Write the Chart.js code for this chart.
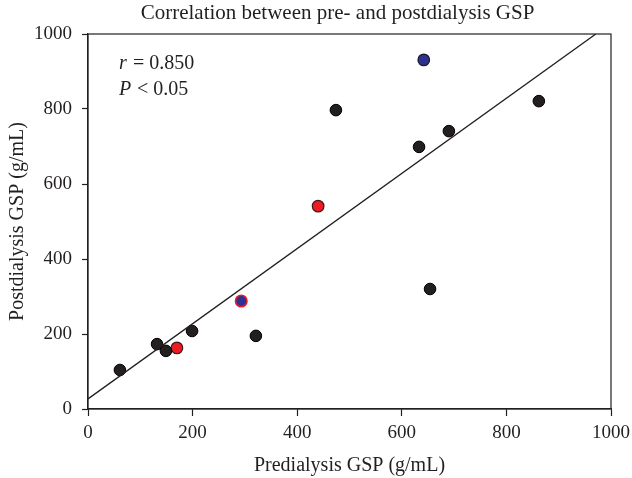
<!DOCTYPE html>
<html>
<head>
<meta charset="utf-8">
<script src="https://cdn.jsdelivr.net/npm/chart.js@4"></script>
<style>
  html, body { margin: 0; padding: 0; background: #fff; }
  #wrap { width: 632px; height: 478px; }
</style>
</head>
<body>
<div id="wrap"><canvas id="chart1"></canvas></div>
<script>
// values (predialysis, postdialysis)
const blackX = [61, 132, 149, 199, 321, 474, 633, 654, 690, 862];
const blackY = [104, 173, 155, 208, 195, 797, 699, 320, 741, 821];
const redX = [170, 440];
const redY = [163, 541];
const blueX = [642];
const blueY = [931];
const mixedX = [293];
const mixedY = [288];
const fitX = [0, 971];
const fitY = [27, 1000];
const axisTicks = [0, 200, 400, 600, 800, 1000];
const chartTitle = 'Correlation between pre- and postdialysis GSP';

const FONT = "'Liberation Serif', 'DejaVu Serif', serif";
const INK = '#231f20';

function toPoints(xs, ys) {
  return xs.map((x, i) => ({ x: x, y: ys[i] }));
}

// box round the plot, the title and the r / P annotation
const framePlugin = {
  id: 'frame',
  afterDraw(chart) {
    const a = chart.chartArea;
    const ctx = chart.ctx;
    ctx.save();
    ctx.strokeStyle = INK;
    ctx.lineWidth = 1.2;
    ctx.strokeRect(a.left, a.top, a.right - a.left, a.bottom - a.top);
    ctx.fillStyle = INK;

    ctx.textAlign = 'center';
    ctx.textBaseline = 'middle';
    ctx.font = '21px ' + FONT;
    ctx.fillText(chartTitle, (a.left + a.right) / 2 - 12, 13);

    ctx.textBaseline = 'alphabetic';
    ctx.textAlign = 'left';
    const x0 = a.left + 31;
    ctx.font = 'italic 20px ' + FONT;
    ctx.fillText('r', x0, a.top + 35);
    ctx.font = '20px ' + FONT;
    ctx.fillText('= 0.850', x0 + 14, a.top + 35);
    ctx.font = 'italic 20px ' + FONT;
    ctx.fillText('P', x0, a.top + 61);
    ctx.font = '20px ' + FONT;
    ctx.fillText('< 0.05', x0 + 18, a.top + 61);
    ctx.restore();
  }
};

function makeAxis(title, tickLen, pad, size) {
  return {
    type: 'linear',
    min: 0,
    max: 1000,
    afterBuildTicks: (axis) => { axis.ticks = axisTicks.map(v => ({ value: v })); },
    afterFit: (axis) => {
      if (axis.isHorizontal()) {
        axis.height = size;
        axis.paddingLeft = 0;
        axis.paddingRight = 0;
      } else {
        axis.width = size;
      }
    },
    grid: {
      drawOnChartArea: false,
      drawTicks: true,
      tickLength: tickLen,
      tickWidth: 1.2,
      tickColor: INK
    },
    border: { display: true, color: INK, width: 1.2 },
    ticks: {
      color: INK,
      font: { family: FONT, size: 19 },
      padding: pad,
      callback: (v) => String(v)
    },
    title: {
      display: true,
      text: title,
      color: INK,
      font: { family: FONT, size: 20 },
      padding: { top: 6, bottom: 0 }
    }
  };
}

const chart1 = new Chart(document.getElementById('chart1'), {
  type: 'scatter',
  data: {
    datasets: [
      {
        type: 'line',
        data: toPoints(fitX, fitY),
        borderColor: INK,
        borderWidth: 1.3,
        pointRadius: 0,
        fill: false,
        tension: 0
      },
      {
        data: toPoints(blackX, blackY),
        backgroundColor: '#231f20',
        borderColor: '#000000',
        borderWidth: 1,
        pointRadius: 5.8
      },
      {
        data: toPoints(redX, redY),
        backgroundColor: '#ed1c24',
        borderColor: '#3a1c1c',
        borderWidth: 1.2,
        pointRadius: 5.8
      },
      {
        data: toPoints(blueX, blueY),
        backgroundColor: '#2e3192',
        borderColor: '#1a1a2a',
        borderWidth: 1.2,
        pointRadius: 5.8
      },
      {
        data: toPoints(mixedX, mixedY),
        backgroundColor: '#2e3192',
        borderColor: '#ed1c24',
        borderWidth: 1.5,
        pointRadius: 5.8
      }
    ]
  },
  options: {
    responsive: true,
    maintainAspectRatio: false,
    animation: false,
    layout: { padding: { left: 0, right: 21, top: 34, bottom: 0 } },
    plugins: {
      legend: { display: false },
      tooltip: { enabled: false },
      title: { display: false }
    },
    scales: {
      x: makeAxis('Predialysis GSP (g/mL)', 7, 6, 69),
      y: makeAxis('Postdialysis GSP (g/mL)', 6, 10, 88)
    }
  },
  plugins: [framePlugin]
});
</script>
</body>
</html>
